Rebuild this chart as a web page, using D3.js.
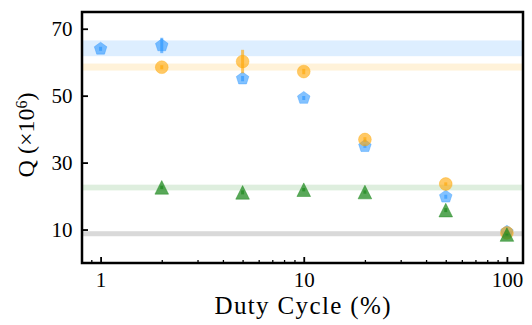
<!DOCTYPE html>
<html>
<head>
<meta charset="utf-8">
<script src="https://cdn.jsdelivr.net/npm/d3@7"></script>
<style>
  body { margin: 0; background: #fff; }
  svg { display: block; }
  svg text { font-family: "Liberation Serif", "DejaVu Serif", serif !important; fill: #000; }
</style>
</head>
<body>
<div id="chart"></div>
<script>
// duty cycle values (x, log axis)
var dutyCycle = [1, 2, 5, 10, 20, 50, 100];

// blue pentagons
var blueX = [1, 2, 5, 10, 20, 50, 100];
var blueQ = [64.0, 65.0, 55.1, 49.3, 34.9, 19.8, 9.3];
var blueErr = [0.6, 2.3, 0.8, 0.6, 0.5, 0.6, 0.4];

// orange circles
var orangeX = [2, 5, 10, 20, 50, 100];
var orangeQ = [58.5, 60.2, 57.2, 36.9, 23.6, 9.0];
var orangeErr = [0.6, 3.5, 0.8, 0.7, 0.5, 0.3];

// green triangles
var greenX = [2, 5, 10, 20, 50, 100];
var greenQ = [22.6, 21.1, 21.9, 21.2, 15.8, 8.5];
var greenErr = [0.5, 0.6, 0.5, 0.5, 0.6, 0.3];

// reference bands (mean, half width)
var bandNames = ["blue", "orange", "green", "gray"];
var bandMean = [64.15, 58.55, 22.55, 8.75];
var bandHalf = [2.35, 1.05, 0.85, 0.75];

var yTicks = [10, 30, 50, 70];
var xMajor = [1, 10, 100];
var xMinor = [0.9, 2, 3, 4, 5, 6, 7, 8, 9, 20, 30, 40, 50, 60, 70, 80, 90];

var colors = {blue: "#1e90ff", orange: "#ffa500", green: "#228b22", gray: "#808080"};

var W = 532, H = 325;
var margin = {top: 12, right: 9, bottom: 62, left: 82},
    width = W - margin.left - margin.right,
    height = H - margin.top - margin.bottom;

var serif = "'Liberation Serif', 'DejaVu Serif', serif";

var svg = d3.select("#chart").append("svg")
    .attr("width", W).attr("height", H);
var g = svg.append("g")
    .attr("transform", "translate(" + margin.left + "," + margin.top + ")");

var x = d3.scaleLog().domain([0.81, 120]).range([0, width]);
var y = d3.scaleLinear().domain([0, 75]).range([height, 0]);

// bands
g.selectAll(".band")
    .data(bandNames)
  .enter().append("rect")
    .attr("class", "band")
    .attr("x", 0)
    .attr("width", width)
    .attr("y", (d, i) => y(bandMean[i] + bandHalf[i]))
    .attr("height", (d, i) => y(bandMean[i] - bandHalf[i]) - y(bandMean[i] + bandHalf[i]))
    .attr("fill", d => colors[d])
    .attr("fill-opacity", d => d === "gray" ? 0.3 : 0.15);

function polygon(n, r, rot) {
    var pts = [];
    for (var k = 0; k < n; k++) {
        var a = rot + k * 2 * Math.PI / n;
        pts.push([r * Math.sin(a), -r * Math.cos(a)]);
    }
    return "M" + pts.map(p => p.join(",")).join("L") + "Z";
}
var pentagon = polygon(5, 6.6, 0);
var triangle = "M0,-6.8L-6.8,6.8L6.8,6.8Z";
var circle = d3.symbol().type(d3.symbolCircle).size(Math.PI * 6.4 * 6.4)();

function drawSeries(xs, qs, errs, color, shape, opacity) {
    var data = xs.map((v, i) => ({x: v, q: qs[i], e: errs[i]}));
    var s = g.append("g");
    s.selectAll("line")
        .data(data)
      .enter().append("line")
        .attr("x1", d => x(d.x)).attr("x2", d => x(d.x))
        .attr("y1", d => y(d.q - d.e)).attr("y2", d => y(d.q + d.e))
        .attr("stroke", color)
        .attr("stroke-width", 3)
        .attr("stroke-opacity", opacity);
    s.selectAll("path")
        .data(data)
      .enter().append("path")
        .attr("d", shape)
        .attr("transform", d => "translate(" + x(d.x) + "," + y(d.q) + ")")
        .attr("fill", color)
        .attr("fill-opacity", opacity)
        .attr("stroke", color)
        .attr("stroke-opacity", opacity * 0.6)
        .attr("stroke-width", 1);
}

drawSeries(blueX, blueQ, blueErr, colors.blue, pentagon, 0.55);
drawSeries(orangeX, orangeQ, orangeErr, colors.orange, circle, 0.6);
drawSeries(greenX, greenQ, greenErr, colors.green, triangle, 0.75);

// axes
var yAxis = g.append("g")
    .call(d3.axisLeft(y).tickValues(yTicks).tickSize(-6).tickPadding(9.5));
var xAxis = g.append("g")
    .attr("transform", "translate(0," + height + ")")
    .call(d3.axisBottom(x).tickValues(xMajor).tickFormat(d3.format("d")).tickSize(-6).tickPadding(9));
var xMinorAxis = g.append("g")
    .attr("transform", "translate(0," + height + ")")
    .call(d3.axisBottom(x).tickValues(xMinor).tickFormat("").tickSize(-3));

[yAxis, xAxis, xMinorAxis].forEach(a => {
    a.attr("font-family", serif).attr("font-size", 21);
    a.select(".domain").remove();
    a.selectAll("line").attr("stroke", "#000").attr("stroke-width", 1.8);
});
xMinorAxis.selectAll("line").attr("stroke-width", 1.3);

// frame
g.append("rect")
    .attr("x", 0).attr("y", 0)
    .attr("width", width).attr("height", height)
    .attr("fill", "none")
    .attr("stroke", "#000")
    .attr("stroke-width", 2.5);

// axis labels
svg.append("text")
    .attr("x", margin.left + width / 2)
    .attr("y", 314)
    .attr("text-anchor", "middle")
    .attr("font-family", serif)
    .attr("font-size", 25)
    .attr("textLength", 176)
    .attr("lengthAdjust", "spacing")
    .text("Duty Cycle (%)");

var yl = svg.append("text")
    .attr("transform", "translate(34," + 135 + ") rotate(-90)")
    .attr("text-anchor", "middle")
    .attr("font-family", serif)
    .attr("font-size", 24);
yl.append("tspan").text("Q (×10");
yl.append("tspan").attr("dy", "-0.45em").attr("font-size", 16).text("6");
yl.append("tspan").attr("dy", "0.3em").text(")");
</script>
</body>
</html>
